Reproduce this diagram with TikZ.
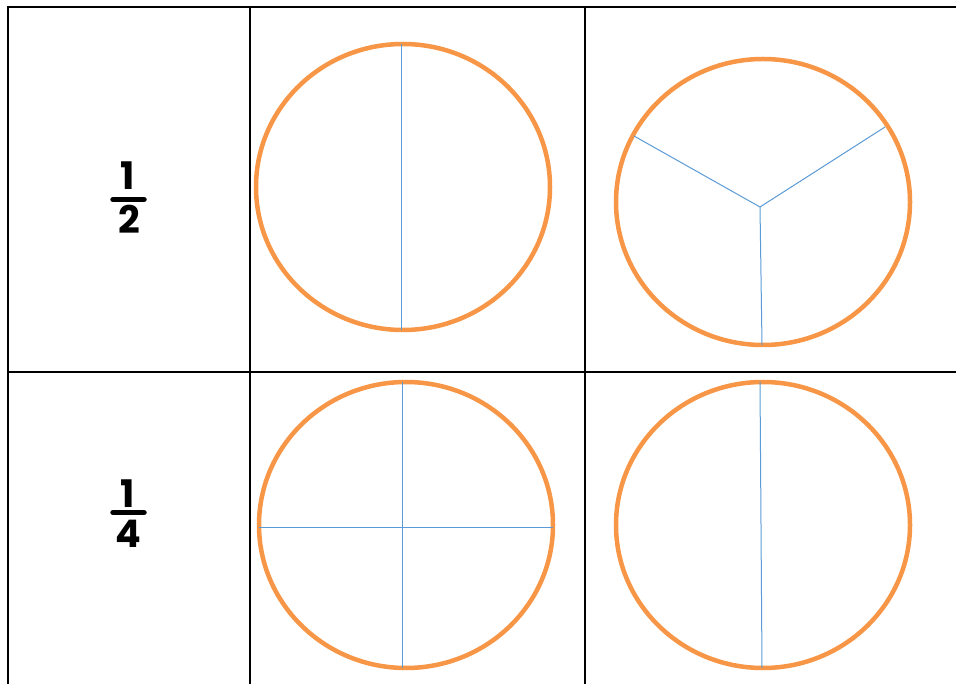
\documentclass[tikz,border=0pt]{standalone}
\usepackage{fontspec}
\newfontfamily\fracfont{Poppins}
\definecolor{ringorange}{HTML}{F79646}
\definecolor{cutblue}{HTML}{5B9BD5}
\begin{document}
\begin{tikzpicture}[
        x=1pt, y=-1pt,
        grid/.style={line width=2pt},
        ring/.style={draw=ringorange, line width=4.5pt},
        cut/.style={draw=cutblue, line width=1pt},
        digit/.style={font=\fracfont\bfseries\fontsize{38}{38}\selectfont, inner sep=0pt},
        bar/.style={line width=5.5pt, line cap=round}
    ]
        \useasboundingbox (0,0) rectangle (956,684);

        % table lines
        \draw[grid] (8,7) -- (956,7);
        \draw[grid] (8,372) -- (956,372);
        \draw[grid] (8,6) -- (8,684);
        \draw[grid] (250,6) -- (250,684);
        \draw[grid] (585,6) -- (585,684);

        % fraction one half
        \node[digit] (halfnum) at (128,176) {1};
        \draw[bar] (113,199.5) -- (144,199.5);
        \node[digit] (halfden) at (129,219) {2};

        % fraction one quarter
        \node[digit] (quarternum) at (128,494) {1};
        \draw[bar] (113,512.5) -- (144,512.5);
        \node[digit] (quarterden) at (128,534) {4};

        % halves, correct
        \draw[ring] (403,187) ellipse [x radius=147, y radius=143];
        \draw[cut] (401,44) -- (401,330);

        % thirds
        \draw[ring] (763,202) ellipse [x radius=147, y radius=143];
        \coordinate (hub) at (760,207);
        \draw[cut] (hub) -- (634,136);
        \draw[cut] (hub) -- (885,127);
        \draw[cut] (hub) -- (762,345);

        % quarters, correct
        \draw[ring] (406,525) ellipse [x radius=147, y radius=143];
        \draw[cut] (402,382) -- (402,668);
        \draw[cut] (259,527) -- (553,527);

        % halves only
        \draw[ring] (763,525) ellipse [x radius=147, y radius=143];
        \draw[cut] (760,382) -- (762,668);

    \end{tikzpicture}
\end{document}
